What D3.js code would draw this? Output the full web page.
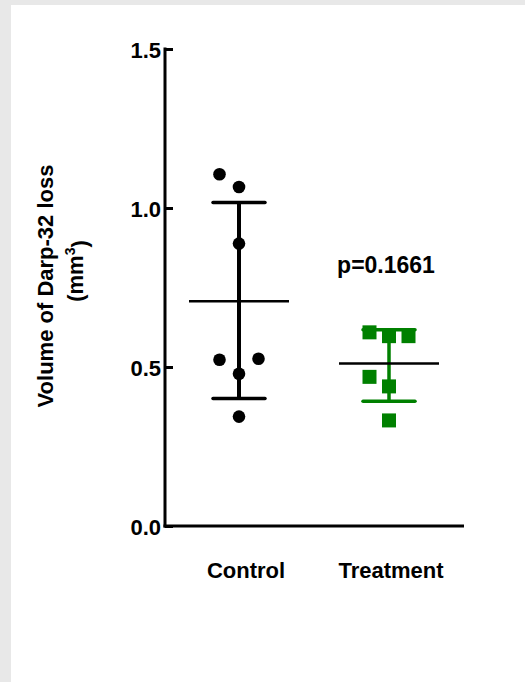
<!DOCTYPE html>
<html>
<head>
<meta charset="utf-8">
<script src="https://cdn.jsdelivr.net/npm/d3@7"></script>
<style>
  html, body { margin: 0; padding: 0; background: #e8e8e8; }
  svg { display: block; }
  text { font-family: "Liberation Sans", Arial, sans-serif; font-weight: bold; fill: #000; }
</style>
</head>
<body>
<svg id="chart" width="525" height="682"></svg>
<script>
// ---- data ----
const categories = ["Control", "Treatment"];
const controlValues = [1.106, 1.066, 0.888, 0.523, 0.526, 0.479, 0.344];
const controlSlots  = [-1, 0, 0, -1, 1, 0, 0];
const treatmentValues = [0.609, 0.597, 0.597, 0.469, 0.439, 0.332];
const treatmentSlots  = [-1, 0, 1, -1, 0, 0];
const groupMeans = [0.707, 0.511];
const groupLower = [0.401, 0.392];
const groupUpper = [1.017, 0.617];
const yTicks = [0, 0.5, 1.0, 1.5];
const yTickLabels = ["0.0", "0.5", "1.0", "1.5"];
const pValueLabel = "p=0.1661";
const yTitle = "Volume of Darp-32 loss";

const svg = d3.select("#chart");
// white panel
svg.append("rect").attr("x", 11).attr("y", 5).attr("width", 514).attr("height", 677).attr("fill", "#fff");

const y = d3.scaleLinear().domain([0, 1.5]).range([526, 49]);
const x = d3.scalePoint().domain(categories).range([239, 389]);
const xLabel = d3.scalePoint().domain(categories).range([246, 391]);
const slotW = 19.5;
const axisX = 165, axisEnd = 464;

// axes
const yAxis = d3.axisLeft(y).tickValues(yTicks).tickFormat((d, i) => yTickLabels[i]).tickSize(-8).tickPadding(4);
const gy = svg.append("g").attr("transform", `translate(${axisX},0)`).call(yAxis);
gy.select(".domain").remove();
gy.append("line").attr("x1", 0).attr("x2", 0).attr("y1", y(1.5) - 1.5).attr("y2", y(0) + 1.5)
  .attr("stroke", "#000").attr("stroke-width", 3);
gy.selectAll(".tick line").attr("stroke", "#000").attr("stroke-width", 3);
gy.selectAll(".tick text").style("font-size", "22px").style("font-family", "Liberation Sans, Arial, sans-serif")
  .style("font-weight", "bold").attr("fill", "#000").attr("dy", "0.38em");

svg.append("line").attr("x1", axisX - 1.5).attr("x2", axisEnd).attr("y1", y(0)).attr("y2", y(0))
  .attr("stroke", "#000").attr("stroke-width", 3);

// category labels
svg.selectAll(".cat").data(categories).enter().append("text")
  .attr("x", d => xLabel(d)).attr("y", 578).attr("text-anchor", "middle")
  .style("font-size", "22px").text(d => d);

// y title
svg.append("text").attr("transform", "translate(53,286) rotate(-90)").attr("text-anchor", "middle")
  .style("font-size", "22px").text(yTitle);
const yt2 = svg.append("text").attr("transform", "translate(83,271) rotate(-90)").attr("text-anchor", "middle")
  .style("font-size", "22px");
yt2.append("tspan").text("(mm");
yt2.append("tspan").attr("dy", "-0.55em").style("font-size", "14px").text("3");
yt2.append("tspan").attr("dy", "0.55em").text(")");

// p value
svg.append("text").attr("x", 386).attr("y", 273).attr("text-anchor", "middle")
  .style("font-size", "23px").text(pValueLabel);

const colors = ["#000000", "#008000"];
const capW = [52, 52];
const meanW = [100, 100];
const barW = [4, 3.5];

// error bars (drawn under points)
categories.forEach((c, i) => {
  const cx = x(c);
  const g = svg.append("g");
  g.append("line").attr("x1", cx).attr("x2", cx).attr("y1", y(groupUpper[i])).attr("y2", y(groupLower[i]))
    .attr("stroke", colors[i]).attr("stroke-width", barW[i]);
  [groupUpper[i], groupLower[i]].forEach(v => {
    g.append("line").attr("x1", cx - capW[i] / 2).attr("x2", cx + capW[i] / 2).attr("y1", y(v)).attr("y2", y(v))
      .attr("stroke", colors[i]).attr("stroke-width", 3.5).attr("stroke-linecap", "round");
  });
});

// points
svg.append("g").selectAll("circle").data(controlValues).enter().append("circle")
  .attr("cx", (d, i) => x("Control") + controlSlots[i] * slotW)
  .attr("cy", d => y(d)).attr("r", 6.3).attr("fill", "#000");

const sq = 14;
svg.append("g").selectAll("rect").data(treatmentValues).enter().append("rect")
  .attr("x", (d, i) => x("Treatment") + treatmentSlots[i] * slotW - sq / 2)
  .attr("y", d => y(d) - sq / 2).attr("width", sq).attr("height", sq).attr("fill", "#008000");

// mean lines (black, on top)
categories.forEach((c, i) => {
  const cx = x(c);
  svg.append("line").attr("x1", cx - meanW[i] / 2).attr("x2", cx + meanW[i] / 2)
    .attr("y1", y(groupMeans[i])).attr("y2", y(groupMeans[i]))
    .attr("stroke", "#000").attr("stroke-width", 2.5);
});
</script>
</body>
</html>
